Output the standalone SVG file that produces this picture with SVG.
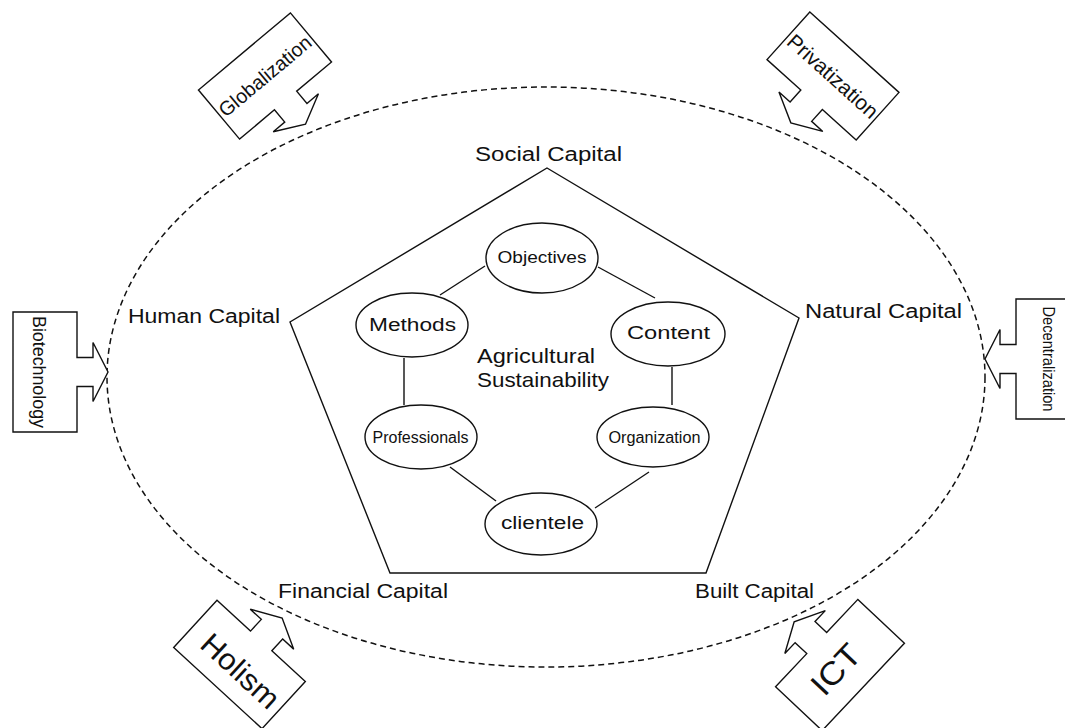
<svg xmlns="http://www.w3.org/2000/svg" width="1065" height="728" viewBox="0 0 1065 728">
<defs>
<style>
text{font-family:"Liberation Sans",Arial,sans-serif;fill:#111}
.ln{fill:none;stroke:#111;stroke-width:1.4}
.el{fill:#fff;stroke:#111;stroke-width:1.4}
.co{fill:#fff;stroke:#111;stroke-width:1.4}
.cap{font-size:20px}
.in{text-anchor:middle}
.ct{text-anchor:middle;dominant-baseline:central}
</style>
<path id="callout" d="M-32,-60 H32 V-14.5 H48 V-29.5 L63,0 L48,29.5 V14.5 H32 V60 H-32 Z"/>
</defs>
<rect width="1065" height="728" fill="#fff"/>

<g id="boundary">
<ellipse cx="546" cy="377" rx="439" ry="290" fill="none" stroke="#111" stroke-width="1.5" stroke-dasharray="6 4"/>
</g>

<g id="pentagon">
<polygon class="ln" points="547,168 799,318 706,573 390,573 290,322"/>
</g>

<g id="connectors">
<line class="ln" x1="485" y1="266" x2="440" y2="295"/>
<line class="ln" x1="598" y1="267" x2="655" y2="298"/>
<line class="ln" x1="404" y1="358" x2="404" y2="405"/>
<line class="ln" x1="672" y1="367" x2="672" y2="405"/>
<line class="ln" x1="450" y1="467" x2="496" y2="501"/>
<line class="ln" x1="649" y1="472" x2="595" y2="508"/>
</g>

<g id="labels">
<text class="cap" x="475" y="161" textLength="147" lengthAdjust="spacingAndGlyphs">Social Capital</text>
<text class="cap" x="128" y="323" textLength="152" lengthAdjust="spacingAndGlyphs">Human Capital</text>
<text class="cap" x="805" y="318" textLength="157" lengthAdjust="spacingAndGlyphs">Natural Capital</text>
<text class="cap" x="278" y="598" textLength="170" lengthAdjust="spacingAndGlyphs">Financial Capital</text>
<text class="cap" x="695" y="598" textLength="119" lengthAdjust="spacingAndGlyphs">Built Capital</text>
</g>

<g id="center">
<text x="477" y="363" font-size="21" textLength="118" lengthAdjust="spacingAndGlyphs">Agricultural</text>
<text x="477" y="387" font-size="21" textLength="132" lengthAdjust="spacingAndGlyphs">Sustainability</text>
</g>

<g id="objectives">
<ellipse class="el" cx="542" cy="258" rx="56" ry="35"/>
<text class="in" x="542" y="263" font-size="16" textLength="89" lengthAdjust="spacingAndGlyphs">Objectives</text>
</g>
<g id="methods">
<ellipse class="el" cx="412" cy="325" rx="56" ry="32"/>
<text class="in" x="412.5" y="331" font-size="18" textLength="87" lengthAdjust="spacingAndGlyphs">Methods</text>
</g>
<g id="content">
<ellipse class="el" cx="668" cy="334" rx="57" ry="32"/>
<text class="in" x="668.5" y="339" font-size="18" textLength="83" lengthAdjust="spacingAndGlyphs">Content</text>
</g>
<g id="professionals">
<ellipse class="el" cx="421" cy="437" rx="56" ry="32"/>
<text class="in" x="420.5" y="443" font-size="16" textLength="96" lengthAdjust="spacingAndGlyphs">Professionals</text>
</g>
<g id="organization">
<ellipse class="el" cx="653" cy="437" rx="56" ry="30"/>
<text class="in" x="654.5" y="443" font-size="16" textLength="92" lengthAdjust="spacingAndGlyphs">Organization</text>
</g>
<g id="clientele">
<ellipse class="el" cx="541" cy="524" rx="56" ry="31"/>
<text class="in" x="542.5" y="529" font-size="18" textLength="83" lengthAdjust="spacingAndGlyphs">clientele</text>
</g>

<g id="globalization" transform="translate(265,76) rotate(50)">
<use href="#callout" class="co"/>
<text class="ct" transform="rotate(-90)" font-size="20" textLength="114" lengthAdjust="spacingAndGlyphs">Globalization</text>
</g>
<g id="privatization" transform="translate(833,76) rotate(132)">
<use href="#callout" class="co"/>
<text class="ct" transform="rotate(-90)" font-size="21" textLength="114" lengthAdjust="spacingAndGlyphs">Privatization</text>
</g>
<g id="biotechnology" transform="translate(45,372)">
<use href="#callout" class="co"/>
<text class="ct" transform="rotate(90)" y="6" font-size="18" textLength="112" lengthAdjust="spacingAndGlyphs">Biotechnology</text>
</g>
<g id="decentralization" transform="translate(1048,359) rotate(180)">
<use href="#callout" class="co"/>
<text class="ct" transform="rotate(-90)" font-size="16" textLength="105" lengthAdjust="spacingAndGlyphs">Decentralization</text>
</g>
<g id="holism" transform="translate(239.5,664.5) rotate(-47.4)">
<use href="#callout" class="co"/>
<text class="ct" transform="rotate(90)" x="5" y="4" font-size="30" textLength="95" lengthAdjust="spacingAndGlyphs">Holism</text>
</g>
<g id="ict" transform="translate(840,665) rotate(-136.7)">
<use href="#callout" class="co"/>
<text class="ct" transform="rotate(90)" x="-6" font-size="32" textLength="57" lengthAdjust="spacingAndGlyphs">ICT</text>
</g>
</svg>
